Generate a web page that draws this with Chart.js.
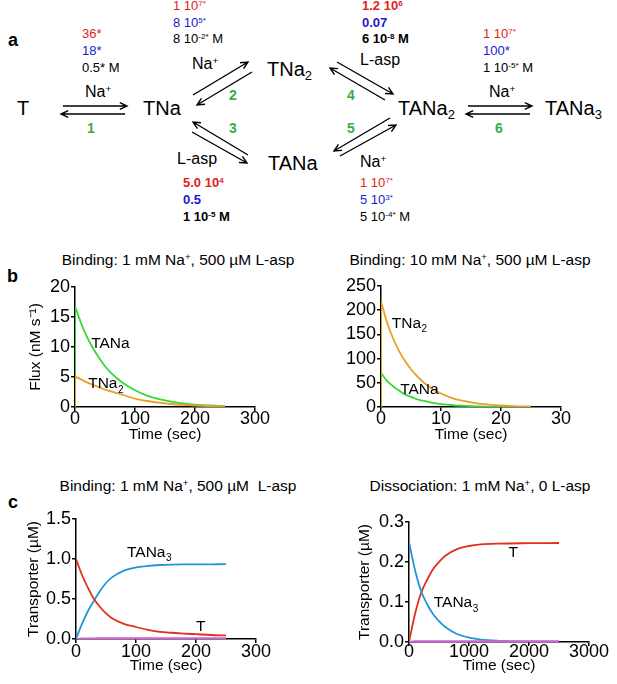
<!DOCTYPE html>
<html lang="en">
<head>
<meta charset="UTF-8">
<title>Transporter binding kinetics</title>
<script src="https://cdn.jsdelivr.net/npm/chart.js"></script>
<style>
  body { margin: 0; background: #fff; font-family: 'Liberation Sans', Arial, sans-serif; }
  #fig { position: relative; width: 617px; height: 684px; overflow: hidden; }
  .t { position: absolute; line-height: 1; white-space: nowrap; color: #000; }
  .sp { font-size: 20px; }
  .k { font-size: 13px; }
  .lig { font-size: 16px; }
  .step { font-size: 14px; font-weight: bold; color: #3cac3c; }
  .red { color: #e2231a; }
  .blue { color: #1a1ad0; }
  .b { font-weight: bold; }
  .up { font-size: 0.62em; position: relative; top: -0.5em; }
  .dn { font-size: 0.65em; position: relative; top: 0.3em; }
  .letter { font-size: 18px; font-weight: bold; }
  .ttl { font-size: 15.5px; width: 300px; text-align: center; }
  canvas { position: absolute; }
  svg { position: absolute; left: 0; top: 0; }
</style>
</head>
<body>
<div id="fig">
  <!-- panel a: reaction scheme -->
  <svg id="arrows" width="617" height="230"></svg>
  <div class="t letter" style="left:8px;top:31px">a</div>

  <div class="t sp" style="left:17px;top:98px">T</div>
  <div class="t sp" style="left:143px;top:98px">TNa</div>
  <div class="t sp" style="left:267px;top:59px">TNa<span class="dn">2</span></div>
  <div class="t sp" style="left:268px;top:153px">TANa</div>
  <div class="t sp" style="left:398px;top:98px">TANa<span class="dn">2</span></div>
  <div class="t sp" style="left:545px;top:98px">TANa<span class="dn">3</span></div>

  <div class="t k red" style="left:82px;top:27px">36*</div>
  <div class="t k blue" style="left:82px;top:44px">18*</div>
  <div class="t k" style="left:82px;top:61px">0.5* M</div>
  <div class="t lig" style="left:85px;top:84px">Na<span class="up">+</span></div>
  <div class="t step" style="left:87px;top:121px">1</div>

  <div class="t k red" style="left:173px;top:-1px">1 10<span class="up">7*</span></div>
  <div class="t k blue" style="left:173px;top:16px">8 10<span class="up">5*</span></div>
  <div class="t k" style="left:173px;top:32px">8 10<span class="up">-2*</span> M</div>
  <div class="t lig" style="left:192px;top:56px">Na<span class="up">+</span></div>
  <div class="t step" style="left:229px;top:88px">2</div>

  <div class="t step" style="left:229px;top:121px">3</div>
  <div class="t lig" style="left:177px;top:151px">L-asp</div>
  <div class="t k red b" style="left:183px;top:176px">5.0 10<span class="up">4</span></div>
  <div class="t k blue b" style="left:183px;top:193px">0.5</div>
  <div class="t k b" style="left:183px;top:210px">1 10<span class="up">-5</span> M</div>

  <div class="t k red b" style="left:362px;top:-1px">1.2 10<span class="up">6</span></div>
  <div class="t k blue b" style="left:362px;top:16px">0.07</div>
  <div class="t k b" style="left:362px;top:32px">6 10<span class="up">-8</span> M</div>
  <div class="t lig" style="left:360px;top:52px">L-asp</div>
  <div class="t step" style="left:347px;top:88px">4</div>

  <div class="t step" style="left:347px;top:121px">5</div>
  <div class="t lig" style="left:360px;top:154px">Na<span class="up">+</span></div>
  <div class="t k red" style="left:360px;top:176px">1 10<span class="up">7*</span></div>
  <div class="t k blue" style="left:360px;top:193px">5 10<span class="up">3*</span></div>
  <div class="t k" style="left:360px;top:210px">5 10<span class="up">-4*</span> M</div>

  <div class="t k red" style="left:483px;top:27px">1 10<span class="up">7*</span></div>
  <div class="t k blue" style="left:483px;top:44px">100*</div>
  <div class="t k" style="left:483px;top:61px">1 10<span class="up">-5*</span> M</div>
  <div class="t lig" style="left:489px;top:84px">Na<span class="up">+</span></div>
  <div class="t step" style="left:495px;top:121px">6</div>

  <!-- panel b -->
  <div class="t letter" style="left:7px;top:267px">b</div>
  <div class="t ttl" style="left:28px;top:252px">Binding: 1 mM Na<span class="up">+</span>, 500 µM L-asp</div>
  <div class="t ttl" style="left:320px;top:252px">Binding: 10 mM Na<span class="up">+</span>, 500 µM L-asp</div>
  <canvas id="bLeft" width="300" height="166" style="left:0;top:276px"></canvas>
  <canvas id="bRight" width="312" height="166" style="left:305px;top:276px"></canvas>

  <!-- panel c -->
  <div class="t letter" style="left:8px;top:493px">c</div>
  <div class="t ttl" style="left:28px;top:478px">Binding: 1 mM Na<span class="up">+</span>, 500 µM&nbsp; L-asp</div>
  <div class="t ttl" style="left:330px;top:478px">Dissociation: 1 mM Na<span class="up">+</span>, 0 L-asp</div>
  <canvas id="cLeft" width="300" height="168" style="left:0;top:505px"></canvas>
  <canvas id="cRight" width="287" height="165" style="left:330px;top:508px"></canvas>
</div>

<script>
  // ---- data ----
  // b, left: 1 mM Na+, 500 uM L-asp (flux, nM/s)
  const bLeftTime = [0, 10, 20, 30, 40, 50, 60, 70, 80, 100, 120, 140, 160, 180, 200, 225, 250];
  const bLeftTANa = [16.8, 14.0, 11.7, 9.8, 8.2, 6.8, 5.7, 4.8, 4.0, 2.8, 1.9, 1.3, 0.9, 0.6, 0.4, 0.25, 0.15];
  const bLeftTNa2 = [5.1, 4.6, 4.1, 3.7, 3.3, 2.9, 2.6, 2.3, 2.0, 1.4, 1.0, 0.72, 0.5, 0.35, 0.24, 0.14, 0.08];
  const bLeftXTicks = [0, 100, 200, 300];
  const bLeftYTicks = [0, 5, 10, 15, 20];

  // b, right: 10 mM Na+, 500 uM L-asp
  const bRightTime = [0, 1, 2, 3, 4, 5, 6, 7, 8, 10, 12, 14, 16, 18, 20, 22, 25];
  const bRightTNa2 = [218, 175, 142, 116, 95, 78, 64, 52, 42, 28, 18, 12, 7.5, 5, 3.2, 2, 1];
  const bRightTANa = [70, 54, 43, 34, 26, 21, 16, 13, 10, 6, 3.6, 2.2, 1.3, 0.8, 0.5, 0.3, 0.15];
  const bRightXTicks = [0, 10, 20, 30];
  const bRightYTicks = [0, 50, 100, 150, 200, 250];

  // c, left: binding, transporter (uM)
  const cLeftTime = [0, 10, 20, 30, 40, 50, 60, 80, 100, 120, 140, 160, 180, 200, 225, 250];
  const cLeftT = [1.0, 0.80, 0.64, 0.50, 0.40, 0.32, 0.26, 0.19, 0.15, 0.115, 0.09, 0.078, 0.068, 0.06, 0.05, 0.045];
  const cLeftTANa3 = [0, 0.19, 0.35, 0.48, 0.60, 0.70, 0.77, 0.855, 0.895, 0.915, 0.925, 0.93, 0.932, 0.933, 0.934, 0.935];
  const cLeftMinor = [0, 0.006, 0.008, 0.009, 0.01, 0.01, 0.01, 0.01, 0.01, 0.01, 0.01, 0.01, 0.01, 0.01, 0.01, 0.01];
  const cLeftXTicks = [0, 100, 200, 300];
  const cLeftYTicks = [0, 0.5, 1.0, 1.5];

  // c, right: dissociation
  const cRightTime = [0, 100, 200, 300, 400, 500, 600, 800, 1000, 1200, 1500, 2000, 2500];
  const cRightT = [0, 0.07, 0.122, 0.155, 0.182, 0.20, 0.215, 0.232, 0.24, 0.244, 0.246, 0.247, 0.2475];
  const cRightTANa3 = [0.25, 0.18, 0.128, 0.095, 0.07, 0.052, 0.038, 0.02, 0.011, 0.006, 0.003, 0.001, 0.0005];
  const cRightMinor = [0, 0.002, 0.002, 0.002, 0.002, 0.002, 0.002, 0.002, 0.002, 0.002, 0.002, 0.002, 0.002];
  const cRightXTicks = [0, 1000, 2000, 3000];
  const cRightYTicks = [0, 0.1, 0.2, 0.3];

  // curve labels (data units)
  const bLeftLabels = [{text: 'TANa', x: 27, y: 10.5}, {text: 'TNa', sub: '2', x: 22, y: 3.8}];
  const bRightLabels = [{text: 'TNa', sub: '2', x: 1.8, y: 173}, {text: 'TANa', x: 3.2, y: 35}];
  const cLeftLabels = [{text: 'TANa', sub: '3', x: 85, y: 1.08}, {text: 'T', x: 200, y: 0.15}];
  const cRightLabels = [{text: 'T', x: 1660, y: 0.223}, {text: 'TANa', sub: '3', x: 412, y: 0.097}];

  // ---- scheme arrows (panel a) ----
  const arrows = [
    [63, 106, 127, 106], [125, 114, 61, 114],
    [193, 95, 248, 62], [252, 72, 197, 105],
    [248, 155, 193, 122], [192, 132, 247, 163],
    [337, 62, 393, 94], [385, 100, 330, 68],
    [340, 156, 396, 125], [390, 118, 334, 151],
    [468, 106, 532, 106], [530, 114, 466, 114]
  ];
  const svg = document.getElementById('arrows');
  arrows.forEach(([x1, y1, x2, y2]) => {
    const a = Math.atan2(y2 - y1, x2 - x1), L = 8, s = 0.45;
    const p = document.createElementNS('http://www.w3.org/2000/svg', 'path');
    p.setAttribute('d', `M${x1},${y1}L${x2},${y2}M${x2 - L * Math.cos(a - s)},${y2 - L * Math.sin(a - s)}L${x2},${y2}L${x2 - L * Math.cos(a + s)},${y2 - L * Math.sin(a + s)}`);
    p.setAttribute('stroke', '#000');
    p.setAttribute('stroke-width', '1.4');
    p.setAttribute('fill', 'none');
    svg.appendChild(p);
  });

  // ---- charts ----
  Chart.defaults.font.family = "'Liberation Sans', Arial, sans-serif";
  Chart.defaults.color = '#000';

  const GREEN = '#35d935', ORANGE = '#e9a024', RED = '#e0301a', BLUE = '#2196d8', PINK = '#dc5adc';

  const curveLabels = {
    id: 'curveLabels',
    afterDatasetsDraw(chart, args, opts) {
      const {ctx} = chart, xs = chart.scales.x, ys = chart.scales.y;
      ctx.save();
      ctx.fillStyle = '#000';
      ctx.textBaseline = 'middle';
      ctx.textAlign = 'left';
      (opts.items || []).forEach(it => {
        const px = xs.getPixelForValue(it.x), py = ys.getPixelForValue(it.y);
        ctx.font = "15.5px 'Liberation Sans', Arial, sans-serif";
        ctx.fillText(it.text, px, py);
        if (it.sub) {
          const w = ctx.measureText(it.text).width;
          ctx.font = "10px 'Liberation Sans', Arial, sans-serif";
          ctx.fillText(it.sub, px + w + 0.5, py + 6);
        }
      });
      ctx.restore();
    }
  };

  function curve(xs, ys, color) {
    return {
      data: xs.map((x, i) => ({x, y: ys[i]})),
      borderColor: color, borderWidth: 1.8, pointRadius: 0,
      cubicInterpolationMode: 'monotone', fill: false
    };
  }

  // vertical rise at t = 0 (flux jumps from zero)
  function jump(xs, ys, color) {
    return {
      data: [{x: xs[0], y: 0}, {x: xs[0], y: ys[0]}],
      borderColor: color, borderWidth: 1.8, pointRadius: 0, fill: false
    };
  }

  function axis(ticks, dec, fit, title, pad) {
    return {
      type: 'linear',
      min: ticks[0],
      max: ticks[ticks.length - 1],
      afterBuildTicks: s => { s.ticks = ticks.map(v => ({value: v})); },
      afterFit: s => { if (s.isHorizontal()) s.height = fit; else s.width = fit; },
      grid: { drawOnChartArea: false, drawTicks: true, tickLength: 4, color: '#000', lineWidth: 1.5 },
      border: { display: true, color: '#000', width: 1.5 },
      ticks: { font: {size: 18, lineHeight: 1}, padding: pad, color: '#000', callback: v => v.toFixed(dec) },
      title: { display: !!title, text: title || '', font: {size: 15.5, lineHeight: 1}, padding: 0, color: '#000' }
    };
  }

  function drawPanel(id, cfg) {
    new Chart(document.getElementById(id), {
      type: 'line',
      data: { datasets: cfg.datasets },
      options: {
        responsive: false,
        animation: false,
        layout: { padding: cfg.pad },
        plugins: {
          legend: { display: false },
          tooltip: { enabled: false },
          curveLabels: { items: cfg.labels }
        },
        scales: {
          x: axis(cfg.xTicks, 0, cfg.xFit, 'Time (sec)', cfg.xPad),
          y: axis(cfg.yTicks, cfg.yDec, cfg.yFit, cfg.yTitle, 1)
        }
      },
      plugins: [curveLabels]
    });
  }

  drawPanel('bLeft', {
    datasets: [
      curve(bLeftTime, bLeftTNa2, ORANGE), jump(bLeftTime, bLeftTNa2, ORANGE),
      curve(bLeftTime, bLeftTANa, GREEN), jump(bLeftTime, bLeftTANa, GREEN)
    ],
    labels: bLeftLabels,
    xTicks: bLeftXTicks, yTicks: bLeftYTicks, yDec: 0,
    pad: {left: 28, top: 11, right: 45, bottom: 0}, yFit: 47, xFit: 35, xPad: -1,
    yTitle: 'Flux (nM s⁻¹)'
  });

  drawPanel('bRight', {
    datasets: [
      curve(bRightTime, bRightTNa2, ORANGE), jump(bRightTime, bRightTNa2, ORANGE),
      curve(bRightTime, bRightTANa, GREEN), jump(bRightTime, bRightTANa, GREEN)
    ],
    labels: bRightLabels,
    xTicks: bRightXTicks, yTicks: bRightYTicks, yDec: 0,
    pad: {left: 0, top: 10, right: 56, bottom: 0}, yFit: 76, xFit: 35, xPad: -1,
    yTitle: ''
  });

  drawPanel('cLeft', {
    datasets: [
      curve(cLeftTime, cLeftMinor, PINK),
      curve(cLeftTime, cLeftT, RED),
      curve(cLeftTime, cLeftTANa3, BLUE)
    ],
    labels: cLeftLabels,
    xTicks: cLeftXTicks, yTicks: cLeftYTicks, yDec: 1,
    pad: {left: 26, top: 14, right: 44, bottom: 0}, yFit: 50, xFit: 34, xPad: 0,
    yTitle: 'Transporter (µM)'
  });

  drawPanel('cRight', {
    datasets: [
      curve(cRightTime, cRightMinor, PINK),
      curve(cRightTime, cRightTANa3, BLUE),
      curve(cRightTime, cRightT, RED)
    ],
    labels: cRightLabels,
    xTicks: cRightXTicks, yTicks: cRightYTicks, yDec: 1,
    pad: {left: 27, top: 14, right: 28, bottom: 0}, yFit: 52, xFit: 31, xPad: -3,
    yTitle: 'Transporter (µM)'
  });
</script>
</body>
</html>
